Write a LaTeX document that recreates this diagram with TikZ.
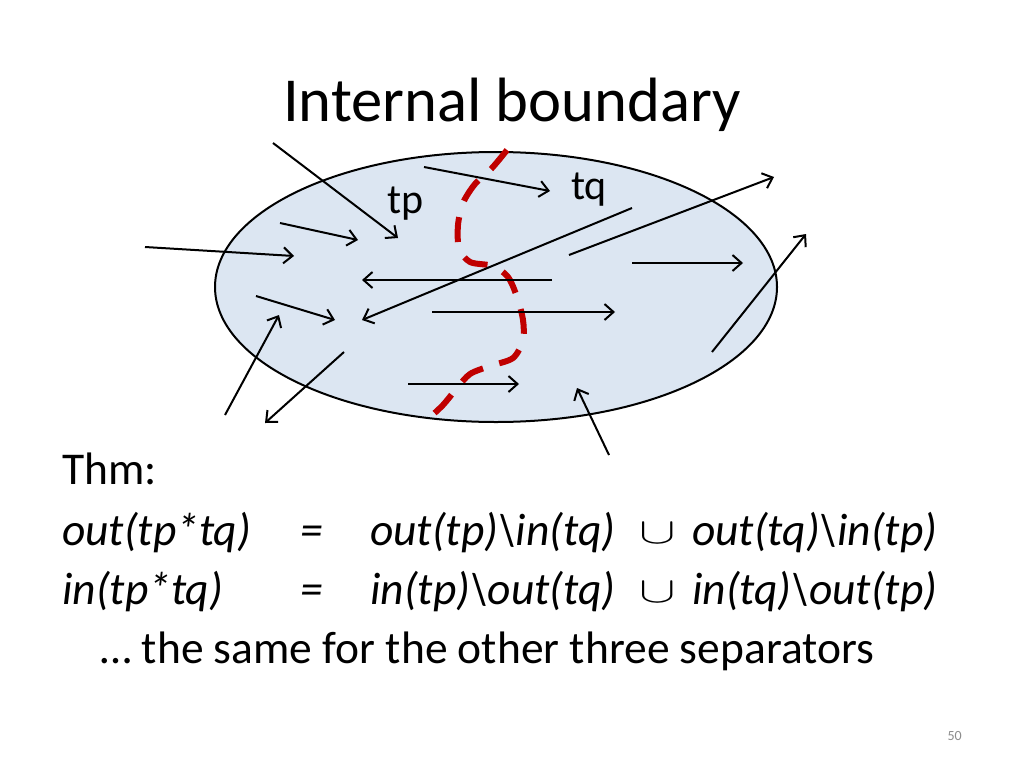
\RequirePackage{fix-cm}
\documentclass[tikz,border=0pt]{standalone}
\usepackage{fontspec}
\setmainfont{Carlito}
\usetikzlibrary{arrows.meta}
\definecolor{blobfill}{HTML}{DCE6F2}
\definecolor{sepred}{HTML}{C00000}
\definecolor{pagegray}{HTML}{8C8C8C}
\newcommand{\txtsize}[1]{\fontsize{#1}{1.2\dimexpr#1pt\relax}\selectfont}
\newcommand{\bigcupsym}{\scalebox{1.2}[0.8]{$\cup$}}

\begin{document}
\begin{tikzpicture}[
  x=1pt, y=-1pt,
  >={Straight Barb[length=9pt,width=16pt,line width=2pt]},
  arr/.style={->, line width=2pt},
  sep/.style={sepred, line width=6pt, dash pattern=on 25pt off 17pt},
  body/.style={anchor=base west, inner sep=0pt, font=\txtsize{45.5}}
]
\useasboundingbox[fill=white] (0,0) rectangle (1024,768);

% title
\node[anchor=base, inner sep=0pt, font=\txtsize{62.6}] (title) at (512,121) {Internal boundary};

% the region
\draw[fill=blobfill, line width=2pt] (496,287) ellipse [x radius=281, y radius=135];

% separator
\draw[sep] plot[smooth, tension=0.5] coordinates {(507,150) (492,168) (475,184) (463,203) (458,225) (459,248) (470,262) (493,266) (508,277) (517,297) (523,320) (523,340) (513,358) (490,366) (470,374) (457,388) (443,405) (428,419)};

% labels of the two parts
\node[anchor=base west, inner sep=0pt, font=\txtsize{42}] (tp) at (387,213) {tp};
\node[anchor=base west, inner sep=0pt, font=\txtsize{42}] (tq) at (571,199) {tq};

% edges
\draw[arr] (273,143) -- (398,238);
\draw[arr] (424,167) -- (550,191);
\draw[arr] (280,223) -- (358,240);
\draw[arr] (145,247) -- (294,256);
\draw[arr] (552,280) -- (362,280);
\draw[arr] (632,208) -- (362,320);
\draw[arr] (569,255) -- (774,177);
\draw[arr] (632,263) -- (743,263);
\draw[arr] (256,296) -- (335,320);
\draw[arr] (432,312) -- (615,312);
\draw[arr] (225,415) -- (279,315);
\draw[arr] (344,352) -- (265,423);
\draw[arr] (408,384) -- (519,384);
\draw[arr] (609,455) -- (577,388);
\draw[arr] (712,352) -- (806,234);

% theorem
\node[body] (thm) at (62,484) {Thm:};
\node[body] (outl) at (62,545) {\itshape out(tp*tq)};
\node[body] (outeq) at (300,545) {\itshape =};
\node[body] (outa) at (370,545) {\itshape out(tp)\textbackslash in(tq)};
\node[body] (outu) at (639,543) {\bigcupsym};
\node[body] (outb) at (692,545) {\itshape out(tq)\textbackslash in(tp)};
\node[body] (inl) at (62,604) {\itshape in(tp*tq)};
\node[body] (ineq) at (300,604) {\itshape =};
\node[body] (ina) at (370,604) {\itshape in(tp)\textbackslash out(tq)};
\node[body] (inu) at (639,602) {\bigcupsym};
\node[body] (inb) at (692,604) {\itshape in(tq)\textbackslash out(tp)};
\node[body] (same) at (100,663) {\ldots{} the same for the other three separators};

% page number
\node[anchor=base east, inner sep=0pt, text=pagegray, font=\txtsize{14}] (pagenum) at (962,740) {50};
\end{tikzpicture}
\end{document}
